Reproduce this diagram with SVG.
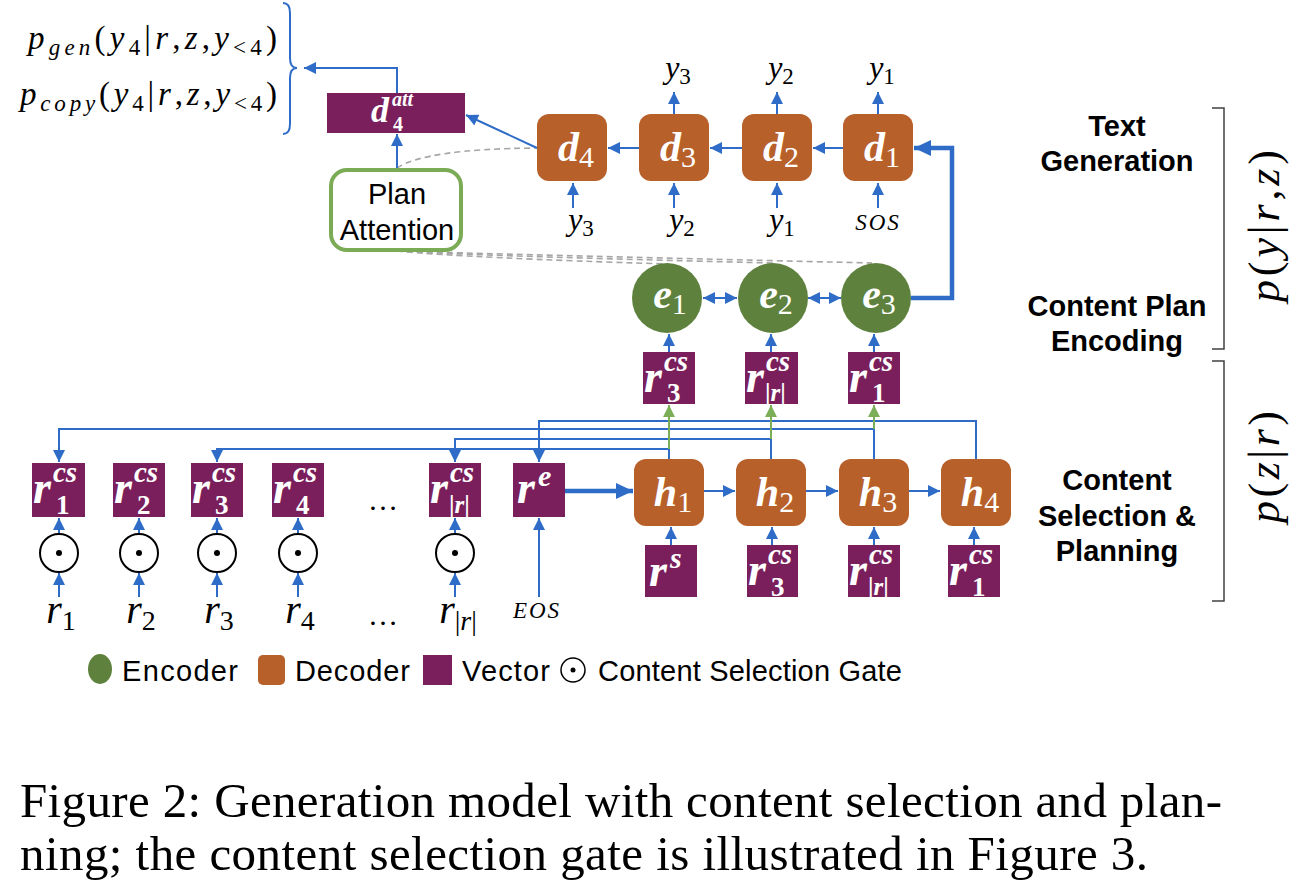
<svg xmlns="http://www.w3.org/2000/svg" width="1314" height="896" viewBox="0 0 1314 896">
<style>
.vec{fill:#7A1F5C}
.dec{fill:#B8602A}
.enc{fill:#5E823E}
.w{fill:#fff;font-family:"Liberation Serif",serif;font-weight:bold;font-style:italic}
.dg{font-style:normal}
.thin{font-weight:normal;font-style:normal}
.m{font-family:"Liberation Serif",serif;font-style:italic;fill:#000}
.up{font-style:normal}
.lab{font-family:"Liberation Sans",Arial,sans-serif;font-size:29px;fill:#000}
.sec{font-family:"Liberation Sans",Arial,sans-serif;font-size:29px;font-weight:bold;text-anchor:middle;fill:#000}
.c{fill:none;stroke:#2E6CC8;stroke-width:2;marker-end:url(#ah)}
.cn{fill:none;stroke:#2E6CC8;stroke-width:2}
.thick{fill:none;stroke:#2E6CC8;stroke-width:4.5;marker-end:url(#ahb)}
.g{fill:none;stroke:#7BAE57;stroke-width:2;marker-end:url(#ahg)}
.dash{fill:none;stroke:#A6A6A6;stroke-width:1.6;stroke-dasharray:6 4}
.gate{fill:#fff;stroke:#000;stroke-width:2}
.brk{fill:none;stroke:#404040;stroke-width:1.5}
</style>
<defs>
<marker id="ah" markerUnits="userSpaceOnUse" markerWidth="13" markerHeight="12" refX="12" refY="6" orient="auto-start-reverse"><path d="M0,0 L12,6 L0,12 z" fill="#2E6CC8"/></marker>
<marker id="ahg" markerUnits="userSpaceOnUse" markerWidth="13" markerHeight="12" refX="12" refY="6" orient="auto"><path d="M0,0 L12,6 L0,12 z" fill="#7BAE57"/></marker>
<marker id="ahb" markerUnits="userSpaceOnUse" markerWidth="18" markerHeight="16" refX="17" refY="8" orient="auto"><path d="M0,0 L17,8 L0,16 z" fill="#2E6CC8"/></marker>
</defs>
<rect width="1314" height="896" fill="#fff"/>

<!-- dashed attention lines -->
<g id="attention-dashes">
<path class="dash" d="M397,168 Q425,149 537,148"/>
<path class="dash" d="M397,251 Q470,258 668,264"/>
<path class="dash" d="M397,251 Q480,256 773,263"/>
<path class="dash" d="M397,251 Q490,254 872,263"/>
</g>

<!-- connectors -->
<g id="connectors">
<path class="cn" d="M283,3 Q290,3 290,13 V58 Q290,68 297,68 Q290,68 290,78 V124 Q290,134 283,134"/>
<path class="c" d="M397,93 V68 H304"/>
<path class="c" d="M397,169 V134"/>
<path class="c" d="M537,148 L466,115"/>
<path class="c" d="M639,148 H608"/>
<path class="c" d="M742,148 H710"/>
<path class="c" d="M843,148 H813"/>
<path class="c" d="M674,114 V92"/>
<path class="c" d="M777,114 V92"/>
<path class="c" d="M878,114 V92"/>
<path class="c" d="M573,208 V183"/>
<path class="c" d="M674,208 V183"/>
<path class="c" d="M777,208 V183"/>
<path class="c" d="M878,208 V183"/>
<path class="thick" d="M911,298 H952 V148 H914"/>
<path class="c" style="marker-start:url(#ah)" d="M703,298 H737"/>
<path class="c" style="marker-start:url(#ah)" d="M808,298 H841"/>
<path class="c" d="M669,352 V334"/>
<path class="c" d="M771,352 V334"/>
<path class="c" d="M874,352 V334"/>
<path class="c" d="M976,459 V421 H539 V462"/>
<path class="c" d="M874,459 V429 H59 V462"/>
<path class="c" d="M771,459 V439 H455 V462"/>
<path class="c" d="M669,459 V449 H217 V462"/>
<path class="g" d="M669,449 V405"/>
<path class="g" d="M771,439 V405"/>
<path class="g" d="M874,429 V405"/>
<path class="thick" d="M565,491 H633"/>
<path class="c" d="M704,491 H735"/>
<path class="c" d="M806,491 H838"/>
<path class="c" d="M909,491 H940"/>
<path class="c" d="M671,545 V527"/>
<path class="c" d="M772,545 V527"/>
<path class="c" d="M874,545 V527"/>
<path class="c" d="M974,545 V527"/>
<path class="c" d="M539,597 V518"/>
<path class="c" d="M59,534 V518"/><path class="c" d="M59,597 V573"/>
<path class="c" d="M139,534 V518"/><path class="c" d="M139,597 V573"/>
<path class="c" d="M217,534 V518"/><path class="c" d="M217,597 V573"/>
<path class="c" d="M298,534 V518"/><path class="c" d="M298,597 V573"/>
<path class="c" d="M455,534 V518"/><path class="c" d="M455,597 V573"/>
</g>

<!-- output distributions -->
<g id="p-gen">
<text class="m" font-size="33" x="28" y="49" textLength="249">p<tspan font-size="23" dy="6">gen</tspan><tspan class="up" dy="-6">(</tspan>y<tspan class="up" font-size="23" dy="6">4</tspan><tspan class="up" dy="-6">|</tspan>r<tspan class="up">,</tspan>z<tspan class="up">,</tspan>y<tspan font-size="23" dy="6" class="up">&lt;4</tspan><tspan class="up" dy="-6">)</tspan></text>
</g>
<g id="p-copy">
<text class="m" font-size="33" x="20" y="105" textLength="257">p<tspan font-size="23" dy="6">copy</tspan><tspan class="up" dy="-6">(</tspan>y<tspan class="up" font-size="23" dy="6">4</tspan><tspan class="up" dy="-6">|</tspan>r<tspan class="up">,</tspan>z<tspan class="up">,</tspan>y<tspan font-size="23" dy="6" class="up">&lt;4</tspan><tspan class="up" dy="-6">)</tspan></text>
</g>

<g id="d4att">
<rect class="vec" x="327" y="93" width="138" height="40"/>
<text class="w" font-size="36" x="371" y="122">d<tspan font-size="20" x="392" y="106">att</tspan><tspan class="dg" font-size="20" x="393" y="131">4</tspan></text>
</g>

<g id="plan-attention">
<rect x="331" y="170" width="130" height="80" rx="16" fill="#fff" stroke="#7BAB55" stroke-width="4"/>
<text class="lab" font-size="30" x="397" y="204" text-anchor="middle">Plan</text>
<text class="lab" font-size="30" x="397" y="240" text-anchor="middle">Attention</text>
</g>

<!-- decoders -->
<g id="d4"><rect class="dec" x="537" y="114" width="70" height="67" rx="12"/><text class="w" font-size="42" x="576" y="161" text-anchor="middle">d<tspan class="thin" font-size="30" dy="6">4</tspan></text></g>
<g id="d3"><rect class="dec" x="639" y="114" width="70" height="67" rx="12"/><text class="w" font-size="42" x="678" y="161" text-anchor="middle">d<tspan class="thin" font-size="30" dy="6">3</tspan></text></g>
<g id="d2"><rect class="dec" x="742" y="114" width="70" height="67" rx="12"/><text class="w" font-size="42" x="781" y="161" text-anchor="middle">d<tspan class="thin" font-size="30" dy="6">2</tspan></text></g>
<g id="d1"><rect class="dec" x="843" y="114" width="70" height="67" rx="12"/><text class="w" font-size="42" x="882" y="161" text-anchor="middle">d<tspan class="thin" font-size="30" dy="6">1</tspan></text></g>

<g id="y-labels">
<text class="m" font-size="32" x="678" y="78" text-anchor="middle">y<tspan class="up" font-size="23" dy="6">3</tspan></text>
<text class="m" font-size="32" x="781" y="78" text-anchor="middle">y<tspan class="up" font-size="23" dy="6">2</tspan></text>
<text class="m" font-size="32" x="882" y="78" text-anchor="middle">y<tspan class="up" font-size="23" dy="6">1</tspan></text>
<text class="m" font-size="32" x="581" y="230" text-anchor="middle">y<tspan class="up" font-size="23" dy="6">3</tspan></text>
<text class="m" font-size="32" x="682" y="230" text-anchor="middle">y<tspan class="up" font-size="23" dy="6">2</tspan></text>
<text class="m" font-size="32" x="782" y="230" text-anchor="middle">y<tspan class="up" font-size="23" dy="6">1</tspan></text>
<text class="m" font-size="23" x="878" y="230" text-anchor="middle" letter-spacing="2">SOS</text>
</g>

<!-- encoders -->
<g id="e1"><circle class="enc" cx="667" cy="298" r="35"/><text class="w" font-size="42" x="670" y="308" text-anchor="middle">e<tspan class="thin" font-size="30" dy="6">1</tspan></text></g>
<g id="e2"><circle class="enc" cx="773" cy="298" r="35"/><text class="w" font-size="42" x="776" y="308" text-anchor="middle">e<tspan class="thin" font-size="30" dy="6">2</tspan></text></g>
<g id="e3"><circle class="enc" cx="876" cy="298" r="35"/><text class="w" font-size="42" x="879" y="308" text-anchor="middle">e<tspan class="thin" font-size="30" dy="6">3</tspan></text></g>

<!-- plan vectors -->
<g id="z-r3"><rect class="vec" x="643" y="352" width="52" height="52"/><text class="w" font-size="46" x="644" y="392">r<tspan font-size="29" x="664" y="371">cs</tspan><tspan class="dg" font-size="27" x="667" y="402">3</tspan></text></g>
<g id="z-rr"><rect class="vec" x="745" y="352" width="53" height="52"/><text class="w" font-size="46" x="746" y="392">r<tspan font-size="29" x="766" y="371">cs</tspan><tspan font-size="25" x="765" y="401"><tspan class="dg">|</tspan>r<tspan class="dg">|</tspan></tspan></text></g>
<g id="z-r1"><rect class="vec" x="848" y="352" width="52" height="52"/><text class="w" font-size="46" x="849" y="392">r<tspan font-size="29" x="869" y="371">cs</tspan><tspan class="dg" font-size="27" x="872" y="402">1</tspan></text></g>

<!-- content selection vectors -->
<g id="r1cs"><rect class="vec" x="32" y="463" width="53" height="54"/><text class="w" font-size="46" x="33" y="503">r<tspan font-size="29" x="53" y="482">cs</tspan><tspan class="dg" font-size="27" x="56" y="514">1</tspan></text></g>
<g id="r2cs"><rect class="vec" x="113" y="463" width="52" height="54"/><text class="w" font-size="46" x="114" y="503">r<tspan font-size="29" x="134" y="482">cs</tspan><tspan class="dg" font-size="27" x="137" y="514">2</tspan></text></g>
<g id="r3cs"><rect class="vec" x="191" y="463" width="52" height="54"/><text class="w" font-size="46" x="192" y="503">r<tspan font-size="29" x="212" y="482">cs</tspan><tspan class="dg" font-size="27" x="215" y="514">3</tspan></text></g>
<g id="r4cs"><rect class="vec" x="272" y="463" width="52" height="54"/><text class="w" font-size="46" x="273" y="503">r<tspan font-size="29" x="293" y="482">cs</tspan><tspan class="dg" font-size="27" x="296" y="514">4</tspan></text></g>
<g id="rrcs"><rect class="vec" x="429" y="463" width="52" height="54"/><text class="w" font-size="46" x="430" y="503">r<tspan font-size="29" x="450" y="482">cs</tspan><tspan font-size="25" x="449" y="513"><tspan class="dg">|</tspan>r<tspan class="dg">|</tspan></tspan></text></g>
<g id="re"><rect class="vec" x="513" y="463" width="52" height="54"/><text class="w" font-size="46" x="517" y="503">r<tspan font-size="30" x="538" y="486">e</tspan></text></g>
<text class="m up" font-size="30" x="383" y="510" text-anchor="middle">…</text>

<!-- gates -->
<g id="gates">
<circle class="gate" cx="59" cy="553" r="19"/><circle cx="59" cy="553" r="3"/>
<circle class="gate" cx="139" cy="553" r="19"/><circle cx="139" cy="553" r="3"/>
<circle class="gate" cx="217" cy="553" r="19"/><circle cx="217" cy="553" r="3"/>
<circle class="gate" cx="298" cy="553" r="19"/><circle cx="298" cy="553" r="3"/>
<circle class="gate" cx="455" cy="553" r="19"/><circle cx="455" cy="553" r="3"/>
</g>

<g id="r-labels">
<text class="m" font-size="40" x="61" y="623" text-anchor="middle">r<tspan class="up" font-size="28" dy="7">1</tspan></text>
<text class="m" font-size="40" x="141" y="623" text-anchor="middle">r<tspan class="up" font-size="28" dy="7">2</tspan></text>
<text class="m" font-size="40" x="219" y="623" text-anchor="middle">r<tspan class="up" font-size="28" dy="7">3</tspan></text>
<text class="m" font-size="40" x="300" y="623" text-anchor="middle">r<tspan class="up" font-size="28" dy="7">4</tspan></text>
<text class="m up" font-size="30" x="383" y="625" text-anchor="middle">…</text>
<text class="m" font-size="40" x="458" y="623" text-anchor="middle">r<tspan font-size="28" dy="7"><tspan class="up">|</tspan>r<tspan class="up">|</tspan></tspan></text>
<text class="m" font-size="23" x="537" y="618" text-anchor="middle" letter-spacing="2">EOS</text>
</g>

<!-- content planning decoder -->
<g id="h1"><rect class="dec" x="634" y="459" width="70" height="67" rx="12"/><text class="w" font-size="42" x="673" y="506" text-anchor="middle">h<tspan class="thin" font-size="30" dy="6">1</tspan></text></g>
<g id="h2"><rect class="dec" x="736" y="459" width="70" height="67" rx="12"/><text class="w" font-size="42" x="775" y="506" text-anchor="middle">h<tspan class="thin" font-size="30" dy="6">2</tspan></text></g>
<g id="h3"><rect class="dec" x="839" y="459" width="70" height="67" rx="12"/><text class="w" font-size="42" x="878" y="506" text-anchor="middle">h<tspan class="thin" font-size="30" dy="6">3</tspan></text></g>
<g id="h4"><rect class="dec" x="941" y="459" width="70" height="67" rx="12"/><text class="w" font-size="42" x="980" y="506" text-anchor="middle">h<tspan class="thin" font-size="30" dy="6">4</tspan></text></g>

<g id="rs"><rect class="vec" x="645" y="545" width="52" height="52"/><text class="w" font-size="46" x="649" y="586">r<tspan font-size="30" x="670" y="568">s</tspan></text></g>
<g id="h-r3"><rect class="vec" x="747" y="545" width="51" height="52"/><text class="w" font-size="46" x="748" y="585">r<tspan font-size="29" x="768" y="564">cs</tspan><tspan class="dg" font-size="27" x="771" y="596">3</tspan></text></g>
<g id="h-rr"><rect class="vec" x="848" y="545" width="52" height="52"/><text class="w" font-size="46" x="849" y="585">r<tspan font-size="29" x="869" y="564">cs</tspan><tspan font-size="25" x="868" y="595"><tspan class="dg">|</tspan>r<tspan class="dg">|</tspan></tspan></text></g>
<g id="h-r1"><rect class="vec" x="948" y="545" width="52" height="52"/><text class="w" font-size="46" x="949" y="585">r<tspan font-size="29" x="969" y="564">cs</tspan><tspan class="dg" font-size="27" x="972" y="596">1</tspan></text></g>

<!-- section labels -->
<g id="sections">
<text class="sec" x="1117" y="136">Text</text>
<text class="sec" x="1117" y="171">Generation</text>
<text class="sec" x="1117" y="316">Content Plan</text>
<text class="sec" x="1117" y="351">Encoding</text>
<text class="sec" x="1117" y="490">Content</text>
<text class="sec" x="1117" y="526">Selection &amp;</text>
<text class="sec" x="1117" y="561">Planning</text>
<path class="brk" d="M1212,108 H1224 V349 H1212"/>
<path class="brk" d="M1212,361 H1224 V601 H1212"/>
<text class="m" font-size="44" transform="translate(1279,226) rotate(-90)" text-anchor="middle" textLength="152">p<tspan class="up">(</tspan>y<tspan class="up">|</tspan>r<tspan class="up">,</tspan>z<tspan class="up">)</tspan></text>
<text class="m" font-size="44" transform="translate(1279,467) rotate(-90)" text-anchor="middle" textLength="112">p<tspan class="up">(</tspan>z<tspan class="up">|</tspan>r<tspan class="up">)</tspan></text>
</g>

<!-- legend -->
<g id="legend">
<ellipse class="enc" cx="100" cy="669" rx="12" ry="15"/>
<text class="lab" x="122" y="681" textLength="116">Encoder</text>
<rect class="dec" x="258" y="655" width="27" height="30" rx="5"/>
<text class="lab" x="295" y="681" textLength="115">Decoder</text>
<rect class="vec" x="423" y="655" width="29" height="30"/>
<text class="lab" x="462" y="681" textLength="88">Vector</text>
<circle cx="573" cy="670" r="12" fill="#fff" stroke="#000" stroke-width="1.5"/><circle cx="573" cy="670" r="2.5"/>
<text class="lab" x="598" y="681" textLength="304">Content Selection Gate</text>
</g>

<g id="caption">
<text x="20" y="817" font-family="'Liberation Serif',serif" font-size="49" textLength="1202" lengthAdjust="spacing">Figure 2: Generation model with content selection and plan-</text>
<text x="20" y="870" font-family="'Liberation Serif',serif" font-size="49" textLength="1128" lengthAdjust="spacing">ning; the content selection gate is illustrated in Figure 3.</text>
</g>
</svg>
